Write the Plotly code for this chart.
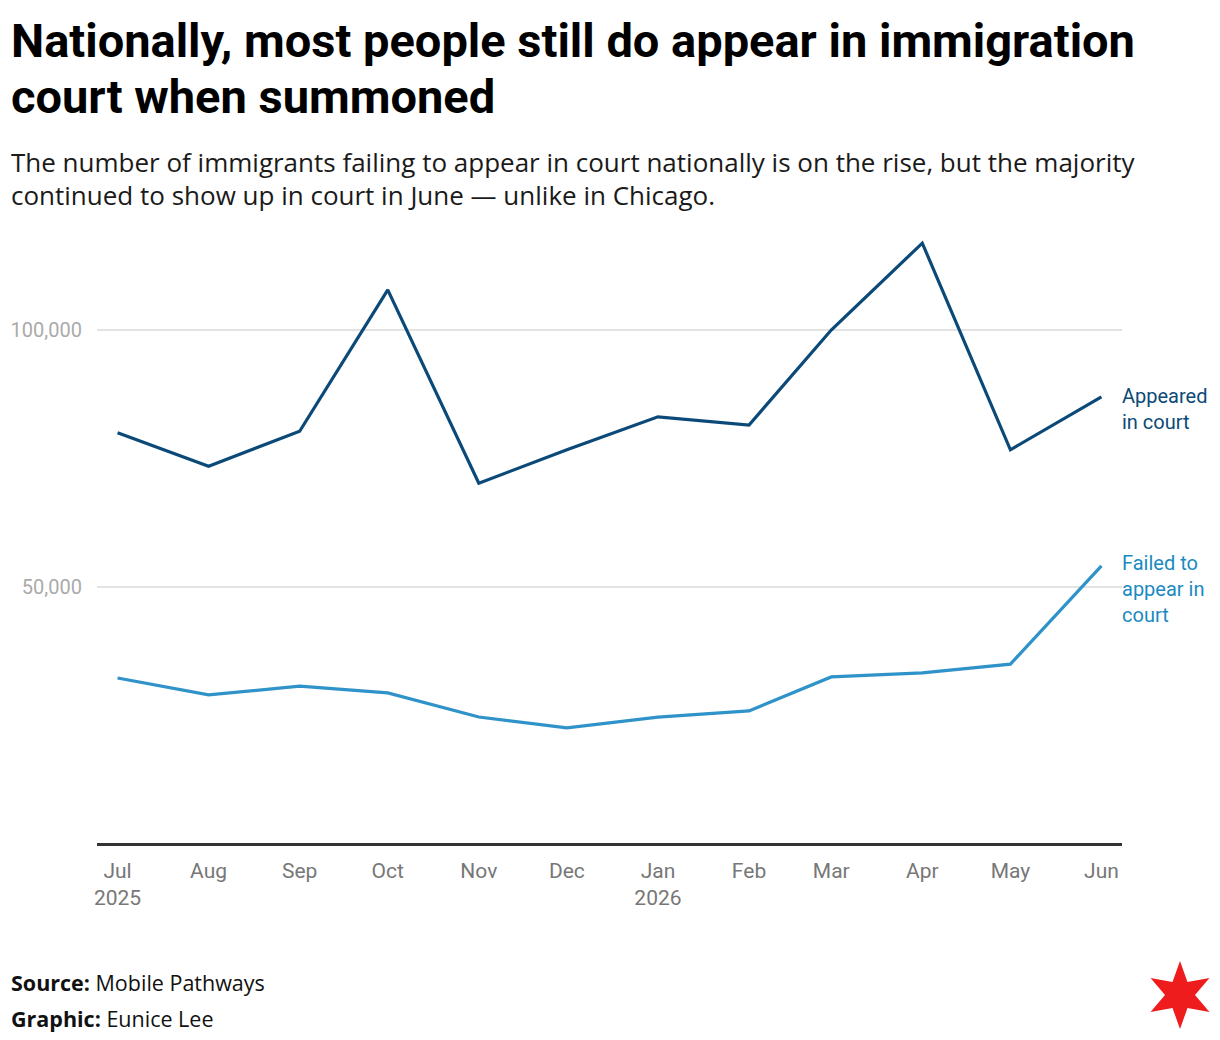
import plotly.graph_objects as go
import math

months = ["2025-07-01", "2025-08-01", "2025-09-01", "2025-10-01", "2025-11-01", "2025-12-01",
          "2026-01-01", "2026-02-01", "2026-03-01", "2026-04-01", "2026-05-01", "2026-06-01"]
tick_text = ["Jul<br>2025", "Aug", "Sep", "Oct", "Nov", "Dec",
             "Jan<br>2026", "Feb", "Mar", "Apr", "May", "Jun"]
appeared = [80000, 73500, 80300, 107800, 70200, 76700, 83100, 81500, 100000, 116900, 76700, 87000]
failed = [32300, 29000, 30700, 29400, 24700, 22600, 24700, 25900, 32500, 33300, 35000, 54100]
y_ticks = [50000, 100000]
y_tick_text = ["50,000", "100,000"]

title_lines = ["Nationally, most people still do appear in immigration", "court when summoned"]
subtitle_lines = ["The number of immigrants failing to appear in court nationally is on the rise, but the majority",
                  "continued to show up in court in June — unlike in Chicago."]
footer_lines = ["<b>Source:</b> Mobile Pathways", "<b>Graphic:</b> Eunice Lee"]

W, H = 1220, 1040
L, R, T, B = 97, 98, 230, 196
PW, PH = W - L - R, H - T - B

def px(x):
    return (x - L) / PW

def py(y):
    return (H - B - y) / PH

DARK = "#0b4a78"
LIGHT = "#2f93c9"
FONT = "Roboto"
BODY = "Open Sans"

fig = go.Figure()
fig.add_trace(go.Scatter(x=months, y=appeared, mode="lines",
                         line=dict(color=DARK, width=3.2), hoverinfo="skip"))
fig.add_trace(go.Scatter(x=months, y=failed, mode="lines",
                         line=dict(color=LIGHT, width=3.2), hoverinfo="skip"))

fig.update_layout(
    width=W, height=H,
    margin=dict(l=L, r=R, t=T, b=B),
    paper_bgcolor="white", plot_bgcolor="white",
    showlegend=False,
    font=dict(family=FONT),
    xaxis=dict(type="date", range=["2025-06-24", "2026-06-08"],
               tickvals=months, ticktext=tick_text,
               showgrid=False, zeroline=False, showline=False, ticks="",
               ticklabelstandoff=12,
               tickfont=dict(family=FONT, size=21, color="#777777")),
    yaxis=dict(range=[0, PH / 257 * 50000], tickvals=y_ticks, ticktext=y_tick_text,
               showgrid=True, gridcolor="#e3e3e3", gridwidth=1.5,
               zeroline=True, zerolinecolor="#333333", zerolinewidth=2.5,
               showline=False, ticks="", ticklabelstandoff=14,
               tickfont=dict(family=FONT, size=20, color="#aaaaaa")),
)

ann = []
for i, t in enumerate(title_lines):
    ann.append(dict(x=px(9), y=py(40 + 57 * i), xref="paper", yref="paper", xanchor="left", yanchor="middle",
                    align="left", showarrow=False, text="<b>" + t + "</b>",
                    font=dict(family=FONT, size=47, color="#000000", weight=900)))
for i, t in enumerate(subtitle_lines):
    ann.append(dict(x=px(9), y=py(162 + 33 * i), xref="paper", yref="paper", xanchor="left", yanchor="middle",
                    align="left", showarrow=False, text=t,
                    font=dict(family=BODY, size=26, color="#1a1a1a")))
for i, t in enumerate(footer_lines):
    ann.append(dict(x=px(9), y=py(983 + 35 * i), xref="paper", yref="paper", xanchor="left", yanchor="middle",
                    align="left", showarrow=False, text=t,
                    font=dict(family=BODY, size=21.5, color="#111111")))
ann.append(dict(x=months[-1], y=appeared[-1], xref="x", yref="y", xanchor="left", yanchor="top",
                xshift=19, yshift=15, align="left", showarrow=False,
                text="Appeared<br>in court",
                font=dict(family=FONT, size=20, color="#0b4a78")))
ann.append(dict(x=months[-1], y=failed[-1], xref="x", yref="y", xanchor="left", yanchor="top",
                xshift=19, yshift=17, align="left", showarrow=False,
                text="Failed to<br>appear in<br>court",
                font=dict(family=FONT, size=20, color="#1a8ac2")))
fig.update_layout(annotations=ann)

# Chicago star logo
cx, cy, ro, ri = 1180, 995, 34, 15
pts = []
for i in range(12):
    ang = math.pi / 2 + i * math.pi / 6
    r = ro if i % 2 == 0 else ri
    pts.append((px(cx + r * math.cos(ang)), py(cy - r * math.sin(ang))))
path = "M " + " L ".join(f"{a:.5f},{b:.5f}" for a, b in pts) + " Z"
fig.add_shape(type="path", path=path, xref="paper", yref="paper",
              fillcolor="#ee1c1c", line=dict(width=0))

fig.write_html("out.html")
